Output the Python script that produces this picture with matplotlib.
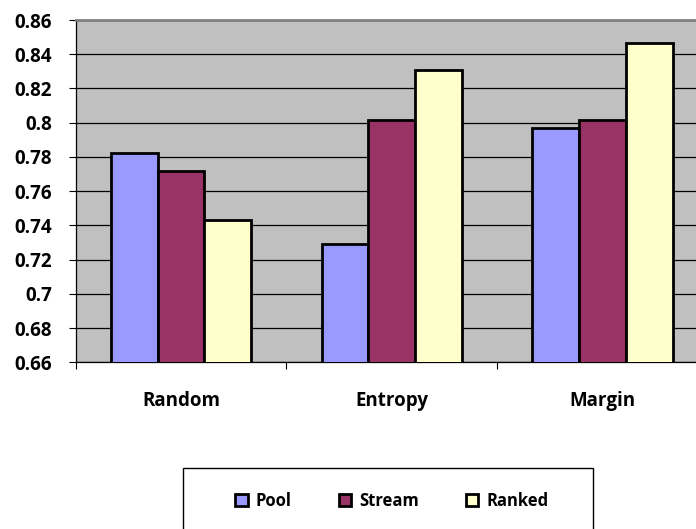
import matplotlib
matplotlib.use("Agg")
import matplotlib.pyplot as plt
from matplotlib.patches import Rectangle
import numpy as np

categories = ["Random", "Entropy", "Margin"]
series_names = ["Pool", "Stream", "Ranked"]
pool = [0.782, 0.729, 0.797]
stream = [0.772, 0.8015, 0.8015]
ranked = [0.743, 0.8305, 0.8465]
y_ticks = [0.66, 0.68, 0.70, 0.72, 0.74, 0.76, 0.78, 0.80, 0.82, 0.84, 0.86]
y_tick_labels = ["0.66", "0.68", "0.7", "0.72", "0.74", "0.76", "0.78", "0.8", "0.82", "0.84", "0.86"]

colors = ["#9999FF", "#993366", "#FFFFCC"]
plt.rcParams["font.family"] = ["Open Sans", "DejaVu Sans"]
plt.rcParams["font.weight"] = "bold"
FS = 13.5

W, H = 696, 529
fig = plt.figure(figsize=(W / 100, H / 100), dpi=100)
ax = fig.add_axes([75.7 / W, 1 - 362.3 / H, (708 - 75.7) / W, (362.3 - 20) / H])
ax.set_facecolor("#C0C0C0")

x = np.arange(len(categories))
bw = 0.222
bars = []
for i, (vals, name) in enumerate(zip([pool, stream, ranked], series_names)):
    b = ax.bar(x + (i - 1) * bw, vals, width=bw, color=colors[i],
               edgecolor="black", linewidth=2, label=name, zorder=3)
    bars.append(b)

ax.set_ylim(0.66, 0.86)
ax.set_xlim(-0.5, 2.5)
ax.set_yticks(y_ticks)
ax.set_yticklabels(y_tick_labels, fontsize=FS, fontweight="bold")
ax.yaxis.grid(True, color="black", linewidth=0.9, zorder=1)
ax.set_axisbelow(True)

ax.set_xticks([-0.5, 0.5, 1.5, 2.5])
ax.set_xticklabels([])
ax.set_xticks(x, minor=True)
ax.set_xticklabels(categories, minor=True, fontsize=FS, fontweight="bold")
ax.tick_params(axis="x", which="minor", length=0, pad=21)
ax.tick_params(axis="x", which="major", length=5, width=0.8, direction="out")
ax.tick_params(axis="y", length=5, width=0.8, direction="out", pad=12)

for s in ["left", "bottom"]:
    ax.spines[s].set_color("black")
    ax.spines[s].set_linewidth(0.9)
ax.spines["top"].set_color("#808080")
ax.spines["top"].set_linewidth(2)
ax.spines["right"].set_visible(False)

# legend frame runs off the bottom edge of the figure
fig.patches.append(Rectangle((183 / W, -0.05), (593 - 183) / W, 0.05 + (529 - 468) / H,
                             transform=fig.transFigure, facecolor="white",
                             edgecolor="black", linewidth=1, zorder=0))
leg = fig.legend(handles=[b[0] for b in bars], labels=series_names,
                 loc="center", bbox_to_anchor=(392 / W, 1 - 500.7 / H),
                 ncol=3, frameon=False, prop={"weight": "bold", "size": 12},
                 handlelength=0.75, handleheight=0.75, handletextpad=0.5,
                 columnspacing=2.8)

fig.savefig("out.png", dpi=100, facecolor="white")
